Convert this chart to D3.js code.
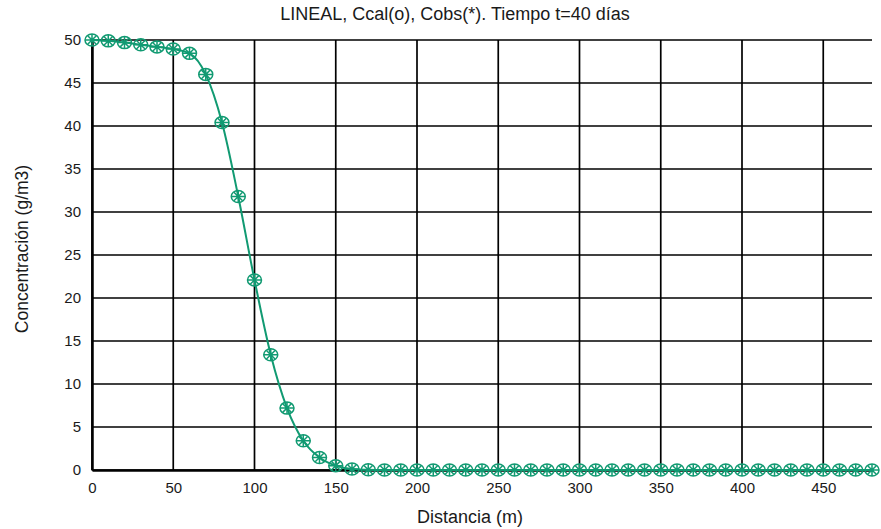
<!DOCTYPE html>
<html>
<head>
<meta charset="utf-8">
<script src="https://cdn.jsdelivr.net/npm/d3@7"></script>
<style>
	body { margin: 0; background: #fff; }
	text { font-family: "Liberation Sans", Arial, sans-serif; fill: #1a1a1a; }
</style>
</head>
<body>
<div id="chart"></div>
<script>
// distance (m) and concentration (g/m3)
const distancia = [0, 10, 20, 30, 40, 50, 60, 70, 80, 90, 100, 110, 120, 130, 140, 150, 160, 170, 180, 190,
	200, 210, 220, 230, 240, 250, 260, 270, 280, 290, 300, 310, 320, 330, 340, 350, 360, 370, 380, 390,
	400, 410, 420, 430, 440, 450, 460, 470, 480];
const concentracion = [50, 49.9, 49.7, 49.45, 49.2, 48.95, 48.45, 46.0, 40.4, 31.8, 22.1, 13.4, 7.2, 3.4, 1.45, 0.5, 0.12, 0.03, 0, 0,
	0, 0, 0, 0, 0, 0, 0, 0, 0, 0, 0, 0, 0, 0, 0, 0, 0, 0, 0, 0,
	0, 0, 0, 0, 0, 0, 0, 0, 0];
const xTicks = [0, 50, 100, 150, 200, 250, 300, 350, 400, 450];
const yTicks = [0, 5, 10, 15, 20, 25, 30, 35, 40, 45, 50];

const width = 881, height = 529;
const margin = {top: 40, right: 9, bottom: 59, left: 92};
const color = "#119a72";

const svg = d3.select("#chart")
	.append("svg")
	.attr("width", width)
	.attr("height", height);

const x = d3.scaleLinear().domain([0, 480]).range([margin.left, width - margin.right]);
const y = d3.scaleLinear().domain([0, 50]).range([height - margin.bottom, margin.top]);

// grid
svg.selectAll("line.gx")
	.data(xTicks)
	.enter().append("line")
	.attr("x1", x).attr("x2", x)
	.attr("y1", y(50)).attr("y2", y(0))
	.style("stroke", "#000")
	.style("stroke-width", 1.7);

svg.selectAll("line.gy")
	.data(yTicks)
	.enter().append("line")
	.attr("x1", x(0)).attr("x2", x(480))
	.attr("y1", y).attr("y2", y)
	.style("stroke", "#000")
	.style("stroke-width", 1.7);

// axes
const xAxis = d3.axisBottom(x).tickValues(xTicks).tickSize(0).tickPadding(12.5);
svg.append("g")
	.attr("transform", "translate(0," + y(0) + ")")
	.call(xAxis)
	.call(g => g.select(".domain").attr("stroke-width", 2.5))
	.call(g => g.selectAll("text").style("font-size", "15px"));

const yAxis = d3.axisLeft(y).tickValues(yTicks).tickSize(0).tickPadding(11);
svg.append("g")
	.attr("transform", "translate(" + x(0) + ",0)")
	.call(yAxis)
	.call(g => g.select(".domain").attr("stroke-width", 2.5))
	.call(g => g.selectAll("text").style("font-size", "15px"));

// labels
svg.append("text")
	.attr("x", 455)
	.attr("y", 19.5)
	.attr("text-anchor", "middle")
	.style("font-size", "18px")
	.text("LINEAL, Ccal(o), Cobs(*). Tiempo t=40 días");

svg.append("text")
	.attr("x", 470)
	.attr("y", 522.5)
	.attr("text-anchor", "middle")
	.style("font-size", "18px")
	.text("Distancia (m)");

svg.append("text")
	.attr("transform", "translate(27.5,249) rotate(-90)")
	.attr("text-anchor", "middle")
	.style("font-size", "17.5px")
	.text("Concentración (g/m3)");

// data
const data = distancia.map((d, i) => ({d: d, c: concentracion[i]}));

const line = d3.line()
	.x(p => x(p.d))
	.y(p => y(p.c))
	.curve(d3.curveMonotoneX);

svg.append("path")
	.attr("d", line(data))
	.style("fill", "none")
	.style("stroke", color)
	.style("stroke-width", 2);

const marks = svg.selectAll("g.mark")
	.data(data)
	.enter().append("g")
	.attr("class", "mark")
	.attr("transform", p => "translate(" + x(p.d) + "," + y(p.c) + ")")
	.style("stroke", color)
	.style("fill", "none")
	.style("stroke-width", 1.5);

marks.append("ellipse").attr("rx", 7).attr("ry", 6);
const sx = 7, sy = 6, t = 4.3;
marks.append("path")
	.attr("d", "M" + -sx + ",0H" + sx + "M0," + -sy + "V" + sy +
		"M" + -t + "," + -t + "L" + t + "," + t + "M" + -t + "," + t + "L" + t + "," + -t);
</script>
</body>
</html>
